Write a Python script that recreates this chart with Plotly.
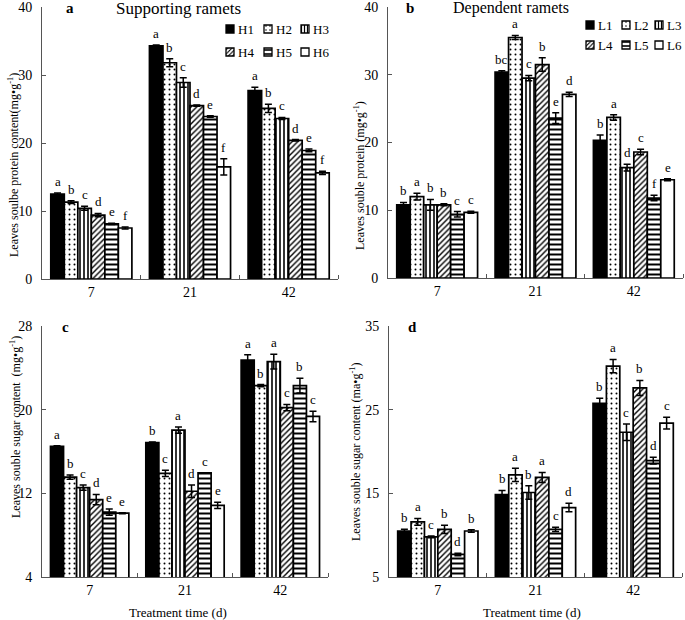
import plotly.graph_objects as go

# ---------------- data ----------------
days = ["7", "21", "42"]
h_names = ["H1", "H2", "H3", "H4", "H5", "H6"]
l_names = ["L1", "L2", "L3", "L4", "L5", "L6"]

# y tick values per panel
a_ticks = [0, 10, 20, 30, 40]
b_ticks = [0, 10, 20, 30, 40]
c_ticks = [4, 12, 20, 28]
d_ticks = [5, 15, 25, 35]

# panel a: supporting ramets, soluble protein (mg g-1)
a_H1 = [12.5, 34.3, 27.7]
a_H2 = [11.3, 31.8, 25.1]
a_H3 = [10.4, 28.9, 23.6]
a_H4 = [9.4, 25.5, 20.4]
a_H5 = [8.1, 23.9, 18.9]
a_H6 = [7.5, 16.5, 15.6]
a_err = [[0.15, 0.1, 0.5], [0.2, 0.6, 0.6], [0.3, 0.7, 0.15],
         [0.25, 0.1, 0.1], [0.1, 0.1, 0.2], [0.15, 1.2, 0.25]]
a_let = [["a", "a", "a"], ["b", "b", "b"], ["c", "c", "c"],
         ["d", "d", "d"], ["e", "e", "e"], ["f", "f", "f"]]

# panel b: dependent ramets, soluble protein
b_L1 = [10.8, 30.4, 20.3]
b_L2 = [12.0, 35.5, 23.7]
b_L3 = [10.8, 29.5, 16.3]
b_L4 = [10.8, 31.5, 18.6]
b_L5 = [9.4, 23.6, 11.8]
b_L6 = [9.7, 27.1, 14.5]
b_err = [[0.35, 0.2, 0.8], [0.5, 0.3, 0.4], [0.8, 0.4, 0.5],
         [0.15, 1.0, 0.4], [0.4, 0.8, 0.4], [0.15, 0.3, 0.15]]
b_let = [["b", "bc", "b"], ["a", "a", "a"], ["b", "c", "d"],
         ["b", "b", "c"], ["c", "e", "f"], ["c", "d", "e"]]

# panel c: supporting ramets, soluble sugar
c_H1 = [16.5, 16.85, 24.75]
c_H2 = [13.55, 13.9, 22.3]
c_H3 = [12.55, 18.05, 24.6]
c_H4 = [11.4, 12.2, 20.2]
c_H5 = [10.2, 13.95, 22.3]
c_H6 = [10.1, 10.85, 19.35]
c_err = [[0.05, 0.05, 0.5], [0.2, 0.3, 0.1], [0.25, 0.3, 0.7],
         [0.5, 0.6, 0.3], [0.3, 0.0, 0.7], [0.05, 0.3, 0.5]]
c_let = [["a", "b", "a"], ["b", "c", "b"], ["c", "a", "a"],
         ["d", "d", "c"], ["e", "c", "b"], ["e", "e", "c"]]

# panel d: dependent ramets, soluble sugar
d_L1 = [10.5, 14.85, 25.75]
d_L2 = [11.6, 17.2, 30.2]
d_L3 = [9.8, 15.1, 22.3]
d_L4 = [10.7, 16.9, 27.6]
d_L5 = [7.7, 10.7, 18.9]
d_L6 = [10.5, 13.3, 23.4]
d_err = [[0.2, 0.5, 0.6], [0.4, 0.8, 0.8], [0.1, 0.8, 1.0],
         [0.5, 0.6, 0.9], [0.15, 0.25, 0.4], [0.15, 0.5, 0.7]]
d_let = [["b", "b", "b"], ["a", "a", "a"], ["c", "b", "c"],
         ["b", "a", "b"], ["d", "c", "d"], ["b", "d", "c"]]

# ---------------- styling ----------------
W, H = 685, 620
FONT = "Liberation Serif"
BW = 0.137  # bar width in category units

patterns = [
    dict(color="black", pattern=None),
    dict(color="white", pattern=dict(shape=".", fgcolor="black", bgcolor="white", size=5, solidity=0.12)),
    dict(color="white", pattern=dict(shape="|", fgcolor="black", bgcolor="white", size=4, solidity=0.4)),
    dict(color="white", pattern=dict(shape="/", fgcolor="black", bgcolor="white", size=4, solidity=0.35)),
    dict(color="white", pattern=dict(shape="-", fgcolor="black", bgcolor="white", size=5, solidity=0.4)),
    dict(color="white", pattern=None),
]


def px_x(p):
    return p / W


def px_y(p):
    return 1 - p / H


fig = go.Figure()
annotations = []


def add_panel(series, errs, lets, names, xa, ya):
    for i, (vals, err, let) in enumerate(zip(series, errs, lets)):
        off = (i - 2.5) * BW
        xs = [g + off for g in range(len(days))]
        st = patterns[i]
        marker = dict(color=st["color"], line=dict(color="black", width=1.7))
        if st["pattern"]:
            marker["pattern"] = st["pattern"]
        fig.add_trace(go.Bar(
            x=xs, y=vals, width=BW, name=names[i], marker=marker,
            error_y=dict(type="data", array=err, color="black", thickness=1.5, width=3.5),
            xaxis=xa, yaxis=ya, showlegend=False))
        for x, v, e, t in zip(xs, vals, err, let):
            annotations.append(dict(
                x=x, y=v + e, xref=xa, yref=ya, text=t, showarrow=False,
                yanchor="bottom", yshift=2, font=dict(family=FONT, size=13, color="black")))


add_panel([a_H1, a_H2, a_H3, a_H4, a_H5, a_H6], a_err, a_let, h_names, "x", "y")
add_panel([b_L1, b_L2, b_L3, b_L4, b_L5, b_L6], b_err, b_let, l_names, "x2", "y2")
add_panel([c_H1, c_H2, c_H3, c_H4, c_H5, c_H6], c_err, c_let, h_names, "x3", "y3")
add_panel([d_L1, d_L2, d_L3, d_L4, d_L5, d_L6], d_err, d_let, l_names, "x4", "y4")

# ---------------- custom legends (pixel overlay axis) ----------------
legend_sets = [
    (h_names, [226, 264, 301], [29, 52]),
    (l_names, [586, 622, 655], [25, 45]),
]
SQ = 8
for i in range(6):
    xs, bases = [], []
    for names, cols, rows in legend_sets:
        cx = cols[i % 3] + SQ / 2
        cy = rows[i // 3]
        xs.append(cx)
        bases.append(cy - SQ / 2)
    st = patterns[i]
    marker = dict(color=st["color"], line=dict(color="black", width=1.3))
    if st["pattern"]:
        p = dict(st["pattern"])
        p["size"] = max(3, p["size"] - 1)
        marker["pattern"] = p
    fig.add_trace(go.Bar(x=xs, y=[SQ, SQ], base=bases, width=SQ, marker=marker,
                         xaxis="x5", yaxis="y5", showlegend=False, hoverinfo="skip"))
    for names, cols, rows in legend_sets:
        annotations.append(dict(
            x=cols[i % 3] + SQ + 2, y=rows[i // 3], xref="x5", yref="y5", text=names[i],
            showarrow=False, xanchor="left", yanchor="middle",
            font=dict(family=FONT, size=13, color="black")))

# ---------------- titles / labels ----------------
def pa(text, x, y, size=14, bold=False, angle=0):
    annotations.append(dict(
        x=x, y=y, xref="x5", yref="y5", text=("<b>%s</b>" % text) if bold else text,
        showarrow=False, xanchor="center", yanchor="middle", textangle=angle,
        font=dict(family=FONT, size=size, color="black")))

pa("a", 70, 8, 15, True)
pa("Supporting ramets", 178, 8, 17)
pa("b", 410, 8, 15, True)
pa("Dependent ramets", 511, 8, 16)
pa("c", 65, 327, 15, True)
pa("d", 412, 327, 15, True)
pa("Leaves soulbe protein content(mg•g<sup>-1</sup>)", 13, 165, 12, angle=-90)
pa("Leaves souble protein (mg•g<sup>-1</sup>)", 359, 176, 12, angle=-90)
pa("Leaves souble sugar content  (mg•g<sup>-1</sup>)", 15, 427, 12, angle=-90)
pa("Leaves souble sugar content (ma•g<sup>-1</sup>)", 355, 452, 12, angle=-90)
pa("Treatment time (d)", 178, 612, 13)
pa("Treatment time (d)", 532, 612, 13)

# ---------------- axes ----------------
def xaxis(x0, x1):
    return dict(domain=[px_x(x0), px_x(x1)], range=[-0.5, 2.5], automargin=False,
                tickvals=[0, 1, 2], ticktext=days, ticks="", showline=True,
                linecolor="#555", linewidth=1, showgrid=False, zeroline=False,
                tickfont=dict(family=FONT, size=14, color="black"),
                minor=dict(tickvals=[0.5, 1.5, 2.5], ticks="inside", ticklen=4,
                           tickcolor="#555", showgrid=False),
                fixedrange=True)


def yaxis(y0, y1, tv):
    return dict(domain=[px_y(y1), px_y(y0)], range=[tv[0], tv[-1]],
                tickmode="array", tickvals=tv, ticktext=[str(t) for t in tv],
                automargin=False, ticklabeloverflow="allow",
                ticks="inside", ticklen=4, tickcolor="#555", showline=True,
                linecolor="#555", linewidth=1, showgrid=False, zeroline=False,
                ticklabelstandoff=6,
                tickfont=dict(family=FONT, size=14, color="black"), fixedrange=True)


layout_axes = {}
panels = [
    ("", 42, 338, 7, 279, a_ticks),
    ("2", 388, 683, 7, 278, b_ticks),
    ("3", 42, 328, 326, 577, c_ticks),
    ("4", 389, 682, 326, 577, d_ticks),
]
for suf, x0, x1, y0, y1, tv in panels:
    xa = xaxis(x0, x1)
    xa["anchor"] = "y" + suf
    ya = yaxis(y0, y1, tv)
    ya["anchor"] = "x" + suf
    layout_axes["xaxis" + suf] = xa
    layout_axes["yaxis" + suf] = ya

layout_axes["xaxis5"] = dict(domain=[0, 1], range=[0, W], visible=False, anchor="y5",
                             fixedrange=True, automargin=False)
layout_axes["yaxis5"] = dict(domain=[0, 1], range=[H, 0], visible=False, anchor="x5",
                             fixedrange=True, automargin=False)

fig.update_layout(
    template="none",
    width=W, height=H, margin=dict(l=0, r=0, t=0, b=0, pad=0), autosize=False,
    paper_bgcolor="white", plot_bgcolor="rgba(0,0,0,0)",
    barmode="overlay", showlegend=False, annotations=annotations,
    font=dict(family=FONT, color="black"),
    **layout_axes,
)

page_fix = (
    "var s=document.createElement('style');"
    "s.innerHTML='html,body{margin:0 !important;padding:0 !important;overflow:hidden !important;}';"
    "document.head.appendChild(s);"
    "window.scrollTo(0,0);"
)

fig.write_html("out.html", config={"displayModeBar": False}, post_script=page_fix)
